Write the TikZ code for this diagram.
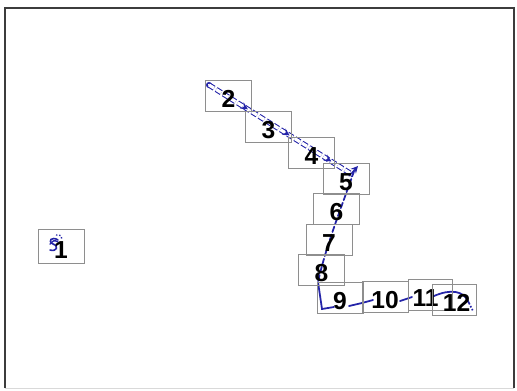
\documentclass[tikz,border=0pt]{standalone}
\usepackage{fontspec}
\newfontfamily\digitfont{Liberation Sans}
\usetikzlibrary{arrows.meta,decorations.markings}
\definecolor{ink}{HTML}{2424A8}
\definecolor{cellgray}{HTML}{8E8E8E}
\definecolor{framegray}{HTML}{3C3C3C}
\tikzset{cell/.style={draw=cellgray,line width=0.5pt,minimum width=0.92cm,minimum height=0.62cm,inner sep=0pt,font=\digitfont\bfseries\fontsize{14}{14}\selectfont,text height=13.4pt,text depth=0pt}, pen/.style={draw=ink,line width=1pt,line cap=round}, trail/.style={pen,dash pattern=on 3.2pt off 1.6pt}, twin/.style={draw=ink,line width=0.6pt,double=white,double distance=1.8pt,dash pattern=on 3.4pt off 1.4pt,postaction={decorate},decoration={markings,mark=at position 0.27 with {\arrow[ink]{Stealth[length=4pt,width=4pt]}},mark=at position 0.56 with {\arrow[ink]{Stealth[length=4pt,width=4pt]}},mark=at position 0.85 with {\arrow[ink]{Stealth[length=4pt,width=4pt]}}}}}

\begin{document}
\begin{tikzpicture}[x=0.02cm,y=-0.02cm]
\useasboundingbox (0,0) rectangle (517,390);
% frame
\draw[framegray,line width=0.7pt] (5,388) -- (5,8) -- (514,8) -- (514,388);
\draw[black!15,line width=0.5pt] (5,388) -- (514,388);
% stroke points
\coordinate (p1) at (209,85);
\coordinate (p2) at (353,175);
\coordinate (p3) at (354,171);
\coordinate (p4) at (318,282);
\coordinate (p5) at (322,309);
% strokes
\draw[ink,line width=0.9pt] (p1) circle (2.2);
\draw[twin] (p1) -- (p2);
\draw[pen,line width=0.7pt,-{Stealth[length=4pt,width=4pt]}] (349,176) -- (358,166);
\draw[trail] (p3) .. controls (345,198) and (326,245) .. (p4);
\draw[pen] (p4) -- (p5) -- (334,307);
\draw[pen] (349,306) -- (362,303);
\draw[pen] (362,303) -- (373,300);
\draw[pen] (400,301) -- (412,297);
\draw[pen] (434,296) .. controls (450,289) and (464,290) .. (469,303);
\draw[ink,line width=0.9pt,densely dotted] (469,303) -- (473,311);
% scribble in box 1
\draw[pen,line width=0.9pt] (58,240) .. controls (52,236) and (47,241) .. (53,244) .. controls (59,246) and (57,252) .. (50,250);
\draw[pen,line width=0.8pt] (50,244) .. controls (54,240) .. (58,242);
\draw[ink,line width=0.8pt,densely dotted] (56,235) .. controls (61,235) .. (62,240);
% boxes
\node[cell,minimum height=0.68cm] (c1) at (61,246.5) {1};
\node[cell] (c2) at (228.5,96) {2};
\node[cell] (c3) at (268.5,126.5) {3};
\node[cell] (c4) at (311.5,152.5) {4};
\node[cell] (c5) at (346,178.5) {5};
\node[cell] (c6) at (336.5,209) {6};
\node[cell] (c7) at (329,240) {7};
\node[cell] (c8) at (321.5,270) {8};
\node[cell] (c9) at (340,297.5) {9};
\node[cell] (c10) at (385,297) {10};
\node[cell,minimum width=0.88cm] (c11) at (430,294.5) {11\kern5pt};
\node[cell,minimum width=0.88cm] (c12) at (454,299.5) {\kern3pt12};
\end{tikzpicture}
\end{document}
